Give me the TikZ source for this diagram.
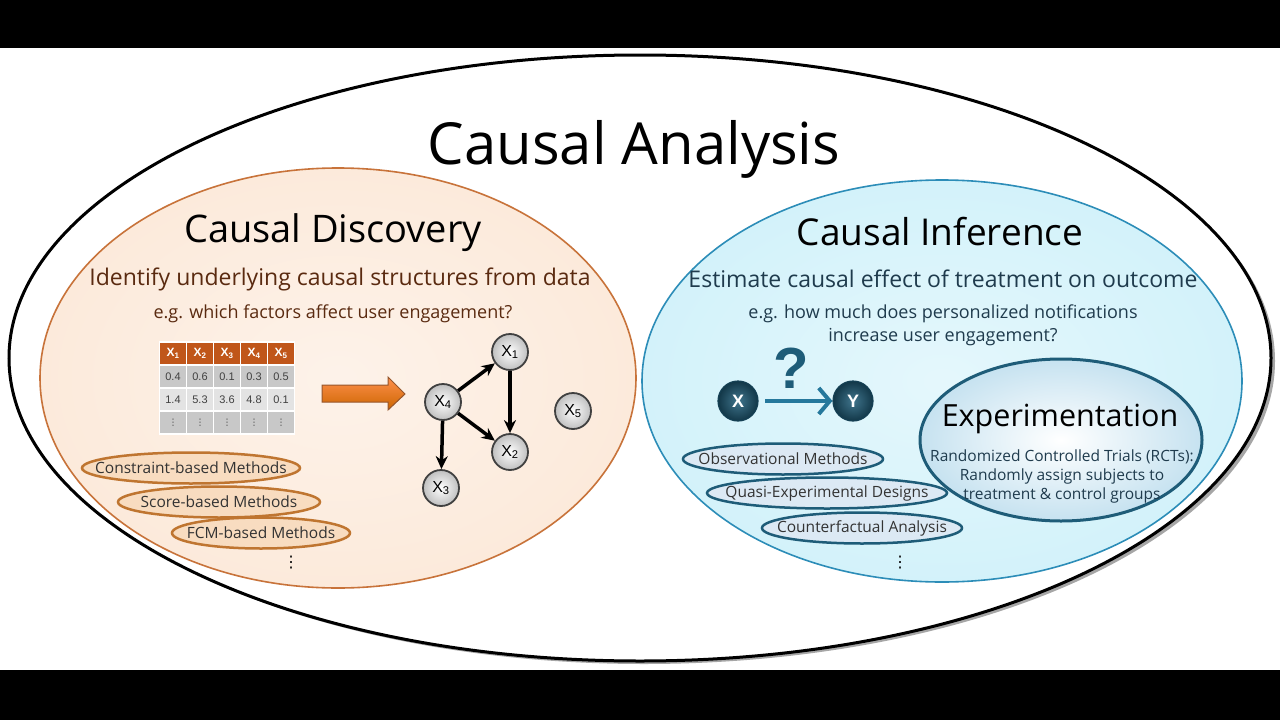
\documentclass[tikz,border=0pt]{standalone}
\usepackage{fontspec}
\setmainfont{Open Sans}
\newfontfamily\arialf{Liberation Sans}
\newfontfamily\dejavu{DejaVu Sans}
\usetikzlibrary{shapes.geometric,arrows.meta}
\definecolor{orbord}{HTML}{C8733A}
\definecolor{orfill}{HTML}{FCEADB}
\definecolor{bluebord}{HTML}{2C8DB8}
\definecolor{bluefill}{HTML}{D3F2FA}
\definecolor{brownt}{HTML}{5A2A10}
\definecolor{navyt}{HTML}{1F3B4D}
\definecolor{methor}{HTML}{F8DCC0}
\definecolor{methorb}{HTML}{BF7530}
\definecolor{methbl}{HTML}{DCE9F4}
\definecolor{expedge}{HTML}{C6E2F0}
\definecolor{teal}{HTML}{1E5C78}
\definecolor{hdr}{HTML}{C0561A}
\definecolor{cellA}{HTML}{C8C8C8}
\definecolor{cellB}{HTML}{E3E3E3}
\tikzset{
  bigell/.style={ellipse, inner sep=0pt},
  meth/.style={ellipse, inner sep=0pt, minimum height=31pt, line width=2.5pt},
  mtext/.style={font=\fontsize{15.5}{18}\selectfont, text=black!80},
  methL/.style={meth, draw=methorb, fill=methor},
  methR/.style={meth, draw=teal, fill=methbl},
  dagnode/.style={circle, draw=black!75, line width=1.8pt, minimum size=36pt, inner sep=0pt, inner color=white, outer color=black!25, font=\arialf\fontsize{16}{16}\selectfont},
  dagarr/.style={-{Stealth[length=13pt,width=12pt]}, line width=3.5pt, black},
  xy/.style={circle, draw=teal!70!black, line width=1.2pt, minimum size=40pt, inner sep=0pt, inner color=teal!85, outer color=teal!60!black, text=white, font=\arialf\bfseries\fontsize{18}{18}\selectfont},
  cell/.style={rectangle, draw=white, line width=1.4pt, minimum width=27pt, minimum height=23pt, inner sep=0pt, font=\arialf\fontsize{11}{11}\selectfont, text=black!75},
}
\begin{document}
\begin{tikzpicture}[x=1pt,y=-1pt]
\useasboundingbox (0,0) rectangle (1280,720);
\fill[white] (0,0) rectangle (1280,720);
\fill[black] (0,0) rectangle (1280,48);
\fill[black] (0,670) rectangle (1280,720);

% outer ellipse
\node[bigell, fill=black!35, minimum width=1262pt, minimum height=606pt] (outersh) at (644,361) {};
\node[bigell, draw=black, line width=3pt, fill=white, minimum width=1262pt, minimum height=606pt] (outer) at (640,358) {};
\node[font=\fontsize{58}{62}\selectfont] (title) at (634,149) {Causal Analysis};

% left ellipse
\node[bigell, draw=orbord, line width=1.6pt, inner color=orfill!60!white, outer color=orfill, minimum width=596pt, minimum height=420pt] (disc) at (338,378) {};
\node[font=\fontsize{38}{42}\selectfont] (discT) at (333,233) {Causal Discovery};
\node[font=\fontsize{23}{26}\selectfont, text=brownt] (discS) at (340,279) {Identify underlying causal structures from data};
\node[font=\fontsize{18}{20}\selectfont, text=brownt] (discE) at (333,314) {e.g. which factors affect user engagement?};

% right ellipse
\node[bigell, draw=bluebord, line width=1.6pt, inner color=bluefill!60!white, outer color=bluefill, minimum width=600pt, minimum height=402pt] (inf) at (942,381) {};
\node[font=\fontsize{37}{42}\selectfont] (infT) at (940,232) {Causal Inference};
\node[font=\fontsize{23}{26}\selectfont, text=navyt] (infS) at (943,279) {Estimate causal effect of treatment on outcome};
\node[font=\fontsize{18}{23}\selectfont, text=navyt, align=center] (infE) at (943,325) {e.g. how much does personalized notifications\\increase user engagement?};

% table
\foreach \c/\lab in {1/1,2/2,3/3,4/4,5/5}{
  \node[cell, fill=hdr, text=white, font=\arialf\bfseries\fontsize{12}{12}\selectfont] (h\c) at (146+27*\c,353.5) {X\textsubscript{\lab}};
}
\foreach \c/\v in {1/0.4,2/0.6,3/0.1,4/0.3,5/0.5}{
  \node[cell, fill=cellA] (ra\c) at (146+27*\c,376.5) {\v};
}
\foreach \c/\v in {1/1.4,2/5.3,3/3.6,4/4.8,5/0.1}{
  \node[cell, fill=cellB] (rb\c) at (146+27*\c,399.5) {\v};
}
\foreach \c in {1,...,5}{
  \node[cell, fill=cellA] (rc\c) at (146+27*\c,422.5) {{\dejavu\fontsize{9}{9}\selectfont ⋮}};
}

% block arrow
\draw[draw=orbord!75!black, line width=1pt, top color=orange!75!red!70, bottom color=orange!80!black]
  (322,385) -- (388,385) -- (388,377) -- (405,394) -- (388,410) -- (388,402) -- (322,402) -- cycle;

% DAG
\node[dagnode] (x1) at (510,352) {X\textsubscript{1}};
\node[dagnode] (x4) at (443,402) {X\textsubscript{4}};
\node[dagnode] (x2) at (510,452) {X\textsubscript{2}};
\node[dagnode] (x3) at (441,488) {X\textsubscript{3}};
\node[dagnode] (x5) at (573,411) {X\textsubscript{5}};
\draw[dagarr] (x4) -- (x1);
\draw[dagarr] (x4) -- (x2);
\draw[dagarr] (x1) -- (x2);
\draw[dagarr] (x4) -- (x3);

% left methods
\node[methL, minimum width=218pt, label={[mtext]center:Constraint-based Methods}] (m1) at (191,468) {};
\node[methL, minimum width=202pt, label={[mtext]center:Score-based Methods}] (m2) at (219,502) {};
\node[methL, minimum width=178pt, label={[mtext]center:FCM-based Methods}] (m3) at (261,533) {};
\node[font=\dejavu\fontsize{16}{16}\selectfont] (mdots) at (291,563) {⋮};

% right X -> Y
\node[xy] (X) at (738,401) {X};
\node[xy] (Y) at (853,401) {Y};
\coordinate (xs) at (765,401);
\draw[-{Straight Barb[length=11pt,width=26pt,line width=4pt]}, line width=4.5pt, draw=bluebord!85!black] (xs) -- (Y.west);
\node[font=\arialf\bfseries\fontsize{58}{58}\selectfont, text=teal] (q) at (791,368) {?};

% right methods
\node[methR, minimum width=200pt, label={[mtext]center:Observational Methods}] (n1) at (783,459) {};
\node[methR, minimum width=240pt, label={[mtext]center:Quasi-Experimental Designs}] (n2) at (827,493) {};
\node[methR, minimum width=200pt, label={[mtext]center:Counterfactual Analysis}] (n3) at (862,528) {};
\node[font=\dejavu\fontsize{16}{16}\selectfont] (ndots) at (900,563) {⋮};

% experimentation
\node[bigell, draw=teal, line width=3pt, inner color=white, outer color=expedge, minimum width=282pt, minimum height=162pt] (exp) at (1061,440) {};
\node[font=\fontsize{30.5}{36}\selectfont] (expT) at (1060,419) {Experimentation};
\node[font=\fontsize{15.5}{19}\selectfont, text=navyt, align=center] (expS) at (1062,476) {Randomized Controlled Trials (RCTs):\\Randomly assign subjects to\\treatment \& control groups};
\end{tikzpicture}
\end{document}
